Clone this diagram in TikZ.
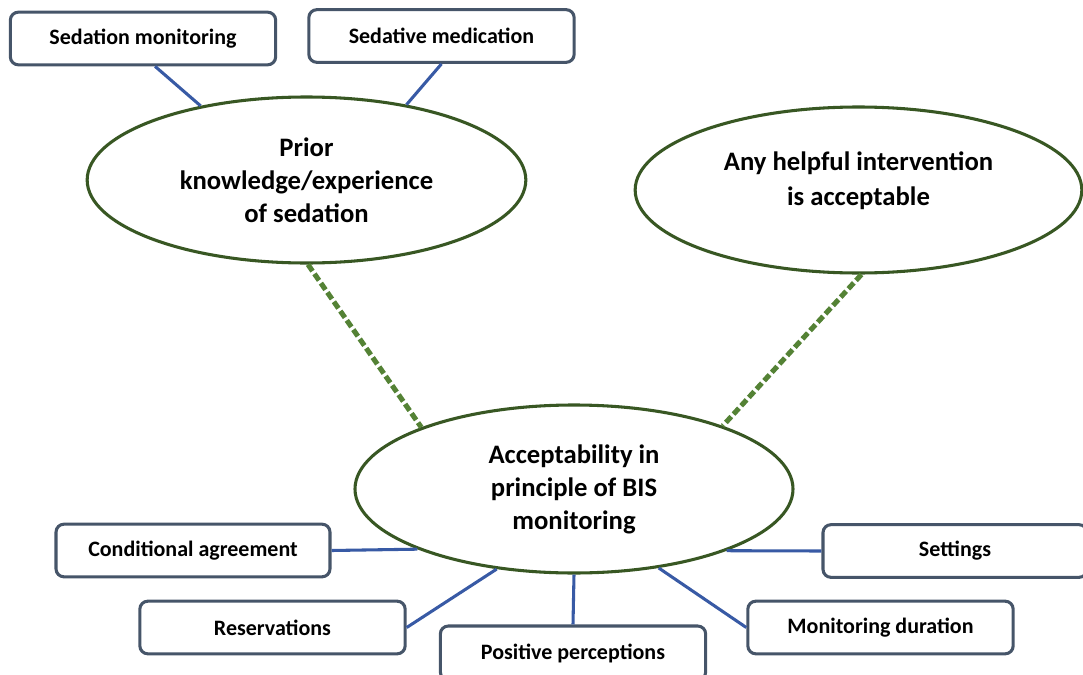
\documentclass[tikz,border=0pt]{standalone}
\usepackage{fontspec}
\setmainfont{Carlito}
\usetikzlibrary{shapes.geometric,calc}
\definecolor{boxline}{RGB}{70,85,105}
\definecolor{conn}{RGB}{56,90,165}
\definecolor{ellline}{RGB}{56,87,35}
\definecolor{dashgreen}{RGB}{84,130,53}
\begin{document}
\begin{tikzpicture}[x=0.75pt,y=-0.75pt,
  topic/.style={draw=boxline,line width=2.3pt,rounded corners=6pt,fill=white,
    minimum width=199pt,minimum height=39.5pt,inner sep=0pt,
    font=\fontsize{16.5}{20}\selectfont\bfseries},
  theme/.style={ellipse,draw=ellline,line width=2.3pt,fill=white,inner sep=0pt,
    align=center,font=\fontsize{20}{24.75}\selectfont\bfseries},
  link/.style={draw=conn,line width=2.3pt},
  dlink/.style={draw=dashgreen,line width=3.8pt,dash pattern=on 6pt off 2.5pt}]
\useasboundingbox (0,0) rectangle (1083,675);
% ellipses
\node[theme,minimum width=329pt,minimum height=124.5pt] (prior) at (306.5,180)
  {Prior\\knowledge/experience\\of sedation};
\node[theme,minimum width=335pt,minimum height=124.5pt] (any) at (858.5,190) {};
\node[align=center,font=\fontsize{20}{26}\selectfont\bfseries,inner sep=0pt] (anytext) at (858.5,180.5)
  {Any helpful intervention\\is acceptable};
\node[theme,minimum width=328.5pt,minimum height=126pt] (bis) at (574,489)
  {Acceptability in\\principle of BIS\\monitoring};
% boxes
\node[topic] (sm) at (143,38.5) {Sedation monitoring};
\node[topic] (smed) at (441.5,36) {Sedative medication};
\node[topic,minimum width=205.5pt] (cond) at (193,550.5) {Conditional agreement};
\node[topic,minimum width=198pt] (set) at (955,551) {Settings};
\node[topic] (res) at (272.5,627.5) {Reservations};
\node[topic,minimum height=40.5pt] (pos) at (573,653) {\raisebox{1.5pt}{Positive perceptions}};
\node[topic] (dur) at (880.5,627.5) {Monitoring duration};
% connectors
\draw[link] ($(sm.south west)!0.545!(sm.south east)$) -- (prior.145.3);
\draw[link] (smed.south) -- (prior.37.3);
\draw[dlink] (prior.271.7) -- (bis.158.3);
\draw[dlink] (any.272.4) -- (bis.23.7);
\draw[link] (cond.east) -- (bis.201.7);
\draw[link] (set.west) -- (bis.338.3);
\draw[link] (res.east) -- (bis.226.1);
\draw[link] (pos.north) -- (bis.270);
\draw[link] (dur.west) -- (bis.317.1);
\end{tikzpicture}
\end{document}
